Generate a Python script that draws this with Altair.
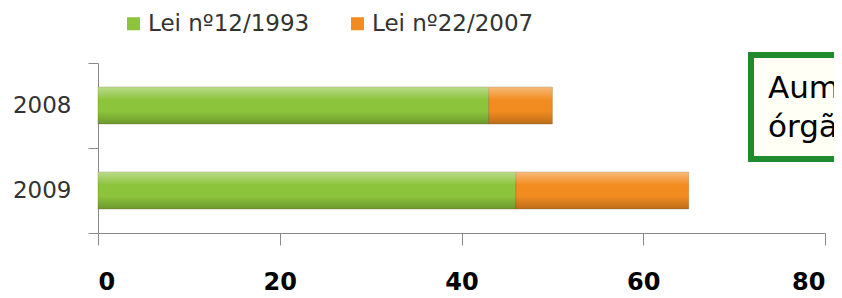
import altair as alt
import pandas as pd

years = ["2008", "2009"]
series = ["Lei nº12/1993", "Lei nº22/2007"]
lei_12_1993 = [43, 46]
lei_22_2007 = [7, 19]
x_ticks = [0, 20, 40, 60, 80]
colors = ["#8cc43c", "#f28c20"]

rows = []
for i, y in enumerate(years):
    rows.append({"ano": y, "serie": series[0], "valor": lei_12_1993[i], "ordem": 0})
    rows.append({"ano": y, "serie": series[1], "valor": lei_22_2007[i], "ordem": 1})
df = pd.DataFrame(rows)
totals = pd.DataFrame({"ano": years, "total": [a + b for a, b in zip(lei_12_1993, lei_22_2007)]})

y_enc = alt.Y("ano:N", sort=years, title=None,
              scale=alt.Scale(paddingInner=0, paddingOuter=0),
              axis=alt.Axis(tickBand="extent", tickSize=10, labelPadding=17,
                            labelFontSize=23, labelColor="#333333", labelFont="DejaVu Sans",
                            domainColor="#8a8a8a", tickColor="#8a8a8a"))
x_scale = alt.Scale(domain=[0, 80], nice=False)

bars = alt.Chart(df).mark_bar(size=37).encode(
    y=y_enc,
    x=alt.X("valor:Q", stack="zero", scale=x_scale, title=None,
            axis=alt.Axis(values=x_ticks, grid=False, tickSize=12, labelPadding=25,
                          labelFontSize=24, labelFontWeight="bold", labelColor="#000000",
                          labelFont="DejaVu Sans", domainColor="#8a8a8a", tickColor="#8a8a8a")),
    color=alt.Color("serie:N", sort=series,
                    scale=alt.Scale(domain=series, range=colors),
                    legend=alt.Legend(title=None, orient="none", direction="horizontal",
                                      legendX=24, legendY=-51, symbolType="square",
                                      symbolSize=170, symbolStrokeWidth=0, labelFontSize=23,
                                      labelFont="DejaVu Sans", labelColor="#333333",
                                      labelLimit=400, labelOffset=3, columnPadding=36)),
    order=alt.Order("ordem:Q"),
    stroke=alt.value("#7a5a20"),
    strokeWidth=alt.value(0.6),
    strokeOpacity=alt.value(0.5),
)

shine = alt.Chart(totals).mark_bar(
    size=37,
    color=alt.Gradient(
        gradient="linear", x1=0, y1=0, x2=0, y2=1,
        stops=[alt.GradientStop(color="rgba(255,255,255,0.4)", offset=0),
               alt.GradientStop(color="rgba(255,255,255,0.0)", offset=0.35),
               alt.GradientStop(color="rgba(0,0,0,0.0)", offset=0.65),
               alt.GradientStop(color="rgba(0,0,0,0.22)", offset=1)])
).encode(
    y=alt.Y("ano:N", sort=years),
    x=alt.X("total:Q", scale=x_scale),
)

box = alt.Chart(pd.DataFrame({"a": [0]})).mark_rect(
    fill="#fffff6", stroke="#1f8b2e", strokeWidth=6
).encode(x=alt.value(653), x2=alt.value(820), y=alt.value(-8), y2=alt.value(96))

note = alt.Chart(pd.DataFrame({"a": [0]})).mark_text(
    text=["Aumento de", "órgãos"], align="left", baseline="alphabetic",
    fontSize=31, font="DejaVu Sans", color="#000000", lineHeight=39
).encode(x=alt.value(670), y=alt.value(35))

chart = alt.layer(bars, shine, box, note).properties(
    width=727, height=170,
    background="white",
    autosize=alt.AutoSizeParams(type="none"),
    padding={"left": 90, "top": 55, "right": 9, "bottom": 65},
).configure_view(stroke=None)

chart.save("out.html", embed_options={"renderer": "svg", "actions": False})
